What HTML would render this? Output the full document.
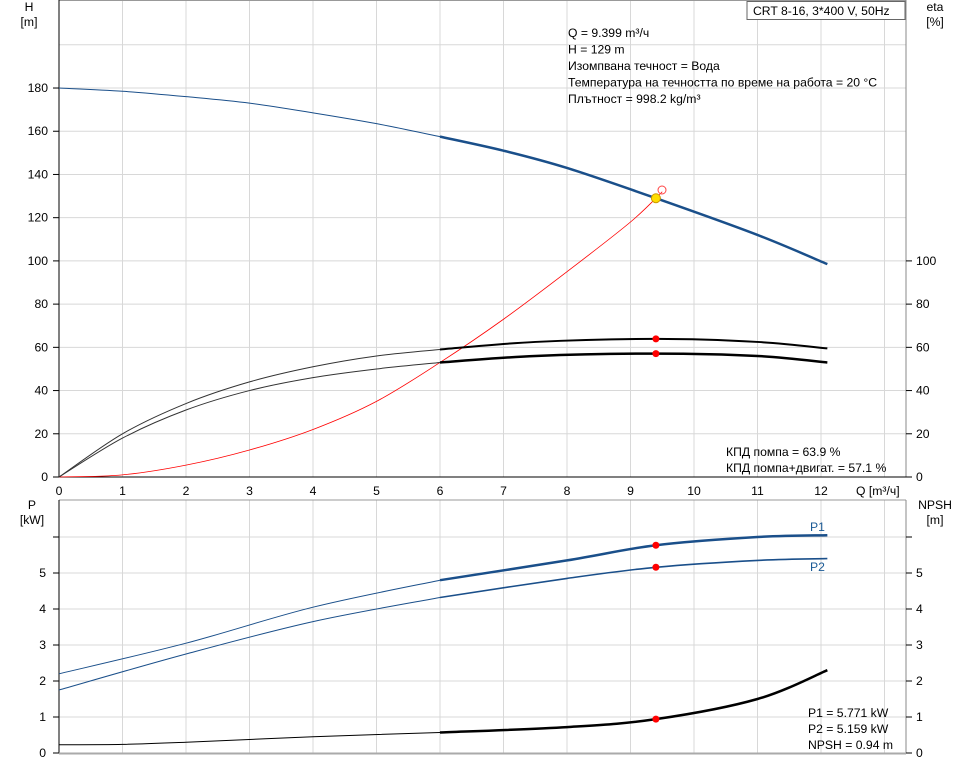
<!DOCTYPE html>
<html><head><meta charset="utf-8"><style>
body{margin:0;background:#fff}
svg text{font-family:"Liberation Sans",sans-serif;font-size:12.2px;fill:#000}
</style></head><body>
<svg id="s" width="968" height="764" xmlns="http://www.w3.org/2000/svg"></svg>
<script>
const s=document.getElementById('s');let h='';
const X=q=>59+q*63.5, YT=v=>477-v*2.161, YB=v=>753-v*36;
for(let i=1;i<=13;i++)h+=`<line x1="${X(i)}" y1="0" x2="${X(i)}" y2="477" stroke="#d8d8d8"/>`;
for(let v=20;v<=200;v+=20)h+=`<line x1="59" y1="${YT(v)}" x2="906" y2="${YT(v)}" stroke="#d8d8d8"/>`;
h+=`<line x1="59" y1="0.5" x2="906" y2="0.5" stroke="#999"/>`;
h+=`<line x1="59" y1="0" x2="59" y2="477" stroke="#000"/><line x1="906" y1="0" x2="906" y2="477" stroke="#888"/><line x1="59" y1="477" x2="906" y2="477" stroke="#000"/>`;
for(let v=0;v<=180;v+=20){h+=`<line x1="53" y1="${YT(v)}" x2="59" y2="${YT(v)}" stroke="#000"/><text x="48" y="${YT(v)+4}" text-anchor="end">${v}</text>`;}
for(let v=0;v<=100;v+=20){h+=`<line x1="906" y1="${YT(v)}" x2="912" y2="${YT(v)}" stroke="#000"/><text x="916" y="${YT(v)+4}">${v}</text>`;}
for(let i=0;i<=12;i++)h+=`<text x="${X(i)}" y="495" text-anchor="middle">${i}</text>`;
h+=`<text x="856" y="495">Q [m³/ч]</text>`;
h+=`<text x="29" y="11" text-anchor="middle">H</text><text x="29" y="26" text-anchor="middle">[m]</text>`;
h+=`<text x="935" y="11" text-anchor="middle">eta</text><text x="935" y="26" text-anchor="middle">[%]</text>`;
h+=`<rect x="747" y="1.5" width="158" height="18" fill="#fff" stroke="#666"/><text x="753" y="15">CRT 8-16, 3*400 V, 50Hz</text>`;
["Q = 9.399 m³/ч","H = 129 m","Изомпвана течност = Вода","Температура на течността по време на работа = 20 °C","Плътност = 998.2 kg/m³"].forEach((t,i)=>h+=`<text x="568" y="${37+i*16.5}">${t}</text>`);
h+=`<text x="726" y="456">КПД помпа = 63.9 %</text><text x="726" y="472">КПД помпа+двигат. = 57.1 %</text>`;
for(let i=1;i<=13;i++)h+=`<line x1="${X(i)}" y1="500" x2="${X(i)}" y2="753" stroke="#d8d8d8"/>`;
for(let v=1;v<=6;v++)h+=`<line x1="59" y1="${YB(v)}" x2="906" y2="${YB(v)}" stroke="#d8d8d8"/>`;
h+=`<line x1="59" y1="500" x2="906" y2="500" stroke="#999"/><line x1="59" y1="500" x2="59" y2="753" stroke="#000"/><line x1="906" y1="500" x2="906" y2="753" stroke="#888"/><line x1="59" y1="753.5" x2="906" y2="753.5" stroke="#aaa" stroke-width="2"/>`;
for(let v=0;v<=6;v++){h+=`<line x1="53" y1="${YB(v)}" x2="59" y2="${YB(v)}" stroke="#000"/><line x1="906" y1="${YB(v)}" x2="912" y2="${YB(v)}" stroke="#000"/>`;if(v<6)h+=`<text x="46" y="${YB(v)+4}" text-anchor="end">${v}</text><text x="916" y="${YB(v)+4}">${v}</text>`;}
h+=`<text x="32" y="509" text-anchor="middle">P</text><text x="32" y="524" text-anchor="middle">[kW]</text>`;
h+=`<text x="935" y="509" text-anchor="middle">NPSH</text><text x="935" y="524" text-anchor="middle">[m]</text>`;
h+=`<text x="808" y="717">P1 = 5.771 kW</text><text x="808" y="733">P2 = 5.159 kW</text><text x="808" y="749">NPSH = 0.94 m</text>`;
h+=`<text x="810" y="531" style="fill:#1a5a96">P1</text><text x="810" y="571" style="fill:#1a5a96">P2</text>`;
function path(pts,Y){let p=pts.map(a=>[X(a[0]),Y(a[1])]);let d=`M${p[0]}`;for(let i=0;i<p.length-1;i++){const p0=p[i-1]||p[i],p1=p[i],p2=p[i+1],p3=p[i+2]||p2;d+=`C${p1[0]+(p2[0]-p0[0])/6},${p1[1]+(p2[1]-p0[1])/6} ${p2[0]-(p3[0]-p1[0])/6},${p2[1]-(p3[1]-p1[1])/6} ${p2[0]},${p2[1]}`;}return d;}
function c(pts,Y,col,w){h+=`<path d="${path(pts,Y)}" fill="none" stroke="${col}" stroke-width="${w}"/>`;}
const blue="#1a4f8a";
c([[0,180],[1,178.5],[2,176],[3,173],[4,168.5],[5,163.5],[6,157.5]],YT,blue,1);
c([[6,157.5],[7,151],[8,143],[9.4,129],[11,112],[12.1,98.5]],YT,blue,2.5);
c([[0,0],[1,1],[2,5.5],[3,12.5],[4,22],[5,35],[6,53],[7,73],[8,95],[9,118],[9.5,132]],YT,"#f00",0.8);
c([[0,0],[1,20],[2,34],[3,44],[4,51],[5,56],[6,59]],YT,"#333",1);
c([[0,0],[1,18],[2,31],[3,40],[4,46],[5,50],[6,53]],YT,"#333",1);
c([[6,59],[7.5,62.5],[9.4,63.9],[11,62.5],[12.1,59.5]],YT,"#000",2);
c([[6,53],[7.5,56],[9.4,57.1],[11,56],[12.1,53]],YT,"#000",2.5);
c([[0,2.2],[2,3.05],[4,4.05],[6,4.8]],YB,blue,1);
c([[6,4.8],[8,5.35],[9.4,5.771],[11,6],[12.1,6.05]],YB,blue,2.5);
c([[0,1.75],[2,2.75],[4,3.65],[6,4.32]],YB,blue,1);
c([[6,4.32],[8,4.85],[9.4,5.159],[11,5.35],[12.1,5.4]],YB,blue,1.6);
c([[0,0.23],[1,0.24],[2,0.3],[4,0.45],[6,0.57]],YB,"#000",1);
c([[6,0.57],[8,0.72],[9.4,0.94],[11,1.5],[12.1,2.3]],YB,"#000",2.5);
const dot=(q,y)=>h+=`<circle cx="${X(q)}" cy="${y}" r="3.5" fill="#f00"/>`;
dot(9.4,YT(63.9));dot(9.4,YT(57.1));dot(9.4,YB(5.771));dot(9.4,YB(5.159));dot(9.4,YB(0.94));
h+=`<circle cx="662" cy="190" r="4" fill="none" stroke="#f44"/><circle cx="${X(9.4)}" cy="${YT(129)}" r="4.5" fill="#fd0" stroke="#c90"/>`;
s.innerHTML=h;
</script></body></html>
